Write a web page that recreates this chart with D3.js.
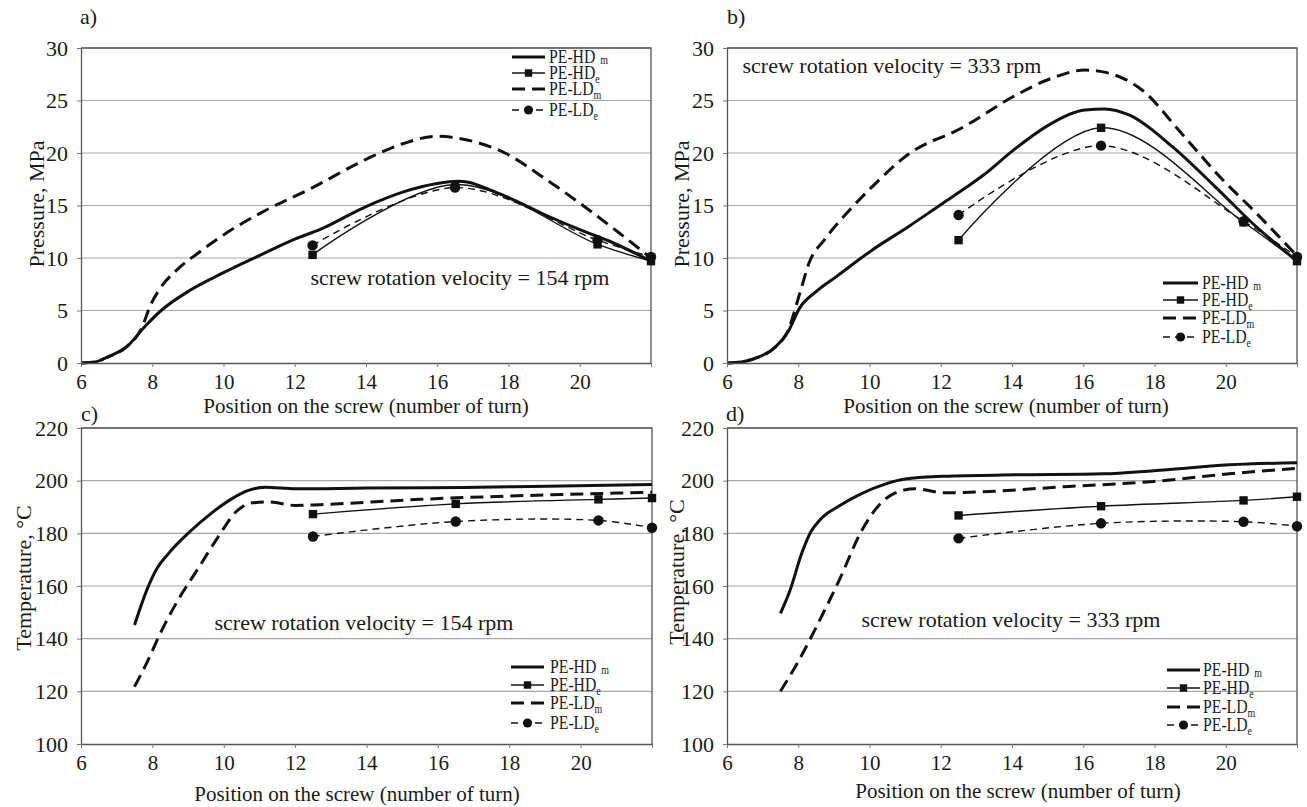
<!DOCTYPE html>
<html>
<head>
<meta charset="utf-8">
<script src="https://cdnjs.cloudflare.com/ajax/libs/d3/7.8.5/d3.min.js"></script>
<style>
    body { margin: 0; background: #fff; }
    text { font-family: "Liberation Serif", "Times New Roman", serif; fill: #1a1a1a; }
</style>
</head>
<body>
<script>
// ---- data ----
const xTicks = [6, 8, 10, 12, 14, 16, 18, 20, 22]
const pressureTicks = [0, 5, 10, 15, 20, 25, 30]
const tempTicks = [100, 120, 140, 160, 180, 200, 220]

const legendNames = ['PE-HD', 'PE-HD', 'PE-LD', 'PE-LD']
const legendSubs = ['m', 'e', 'm', 'e']

// a) pressure, 154 rpm
const pressure154HDm = [[6, 0], [6.4, 0.1], [6.7, 0.5], [7.3, 1.6], [7.8, 3.5], [8.25, 5.0], [9.05, 6.9], [10, 8.6], [11.05, 10.3], [12, 11.8], [12.7, 12.7], [14, 14.9], [15.05, 16.3], [16, 17.1], [16.6, 17.3], [17.9, 15.9], [19.1, 14.0], [20, 12.7], [20.9, 11.5], [22, 9.7]]
const pressure154LDm = [[6, 0], [6.4, 0.1], [6.7, 0.5], [7.3, 1.6], [7.7, 3.3], [7.95, 5.5], [8.2, 7.0], [8.7, 8.9], [9.3, 10.5], [10, 12.2], [11.05, 14.3], [12.5, 16.7], [14, 19.4], [15.05, 20.9], [16, 21.6], [16.6, 21.4], [17.9, 20.0], [19.05, 17.5], [20.25, 14.6], [21.1, 12.4], [22, 10.0]]
const pressure154HDe = [[12.5, 10.3], [16.5, 17.0], [20.5, 11.3], [22, 9.7]]
const pressure154LDe = [[12.5, 11.2], [16.5, 16.7], [20.5, 11.7], [22, 10.1]]

// b) pressure, 333 rpm
const pressure333HDm = [[6, 0], [6.4, 0.1], [6.75, 0.4], [7.35, 1.5], [7.7, 2.9], [8.05, 5.3], [8.5, 6.8], [9.1, 8.3], [10.05, 10.7], [11.1, 13.0], [12.05, 15.2], [12.75, 16.8], [13.2, 17.9], [14.05, 20.3], [15.1, 22.8], [16.05, 24.1], [16.6, 24.2], [17.3, 23.6], [18.5, 20.6], [19.7, 16.8], [20.85, 13.0], [22, 9.7]]
const pressure333LDm = [[6, 0], [6.4, 0.1], [6.75, 0.4], [7.35, 1.5], [7.7, 3.0], [8.05, 6.7], [8.3, 9.5], [8.75, 11.8], [9.45, 14.6], [10.05, 16.7], [11.1, 19.9], [12.6, 22.4], [14.05, 25.4], [15.1, 27.1], [16.05, 27.9], [16.6, 27.7], [17.65, 26.0], [18.75, 21.9], [19.9, 17.5], [20.85, 14.3], [22, 10.2]]
const pressure333HDe = [[12.5, 11.7], [16.5, 22.4], [20.5, 13.4], [22, 9.7]]
const pressure333LDe = [[12.5, 14.1], [16.5, 20.7], [20.5, 13.5], [22, 10.1]]

// c) temperature, 154 rpm
const temp154HDm = [[7.5, 145.2], [7.86, 159], [8.1, 166], [8.45, 172.3], [9.04, 180.5], [9.63, 187.4], [10.22, 193.1], [10.69, 196.3], [11.16, 197.5], [12, 196.9], [14, 197.2], [16.7, 197.4], [19.06, 197.9], [22, 198.5]]
const temp154LDm = [[7.5, 121.8], [7.86, 131.3], [8.2, 141.4], [8.69, 154], [9.28, 166.6], [9.87, 179.2], [10.34, 188.1], [10.8, 191.6], [11.28, 191.9], [12, 190.6], [12.7, 190.9], [15.5, 192.9], [19.06, 194.6], [22, 195.6]]
const temp154HDe = [[12.5, 187.3], [16.5, 191.2], [20.5, 192.9], [22, 193.4]]
const temp154LDe = [[12.5, 178.8], [16.5, 184.5], [20.5, 184.9], [22, 182.1]]

// d) temperature, 333 rpm
const temp333HDm = [[7.5, 149.6], [7.76, 158], [8.1, 172.5], [8.35, 180.5], [8.6, 185], [9.17, 190.6], [9.76, 195], [10.46, 198.8], [11.05, 200.7], [12.1, 201.7], [14.1, 202.2], [16.57, 202.6], [17.98, 203.8], [20.1, 206], [22, 206.8]]
const temp333LDm = [[7.5, 120], [8, 131.3], [8.58, 146.4], [9.17, 162.8], [9.76, 180.5], [10.35, 191.9], [10.93, 196.3], [11.29, 196.9], [12.1, 195.4], [12.8, 195.6], [15.6, 197.8], [17.98, 199.7], [20.1, 202.6], [22, 204.7]]
const temp333HDe = [[12.5, 186.8], [16.5, 190.3], [20.5, 192.5], [22, 193.9]]
const temp333LDe = [[12.5, 178.1], [16.5, 183.8], [20.5, 184.4], [22, 182.7]]

// ---- layout ----
const panels = [
    {
        label: 'a)', labelAt: [80, 24],
        left: 81, top: 48, width: 570, height: 315,
        yDomain: [0, 30], yTicks: pressureTicks, yTitle: 'Pressure, MPa', yTitleAt: [36, 204],
        xTitleAt: [366, 413],
        note: 'screw rotation velocity = 154 rpm', noteAt: [460, 285],
        legend: { x0: 512, x1: 545, tx: 549, ys: [57, 73, 89, 110] },
        series: [pressure154HDm, pressure154HDe, pressure154LDm, pressure154LDe]
    },
    {
        label: 'b)', labelAt: [727, 24],
        left: 727, top: 48, width: 570, height: 315,
        yDomain: [0, 30], yTicks: pressureTicks, yTitle: 'Pressure, MPa', yTitleAt: [681, 204],
        xTitleAt: [1006, 413],
        note: 'screw rotation velocity = 333 rpm', noteAt: [892, 73],
        legend: { x0: 1163, x1: 1198, tx: 1202, ys: [283, 300, 318, 337] },
        series: [pressure333HDm, pressure333HDe, pressure333LDm, pressure333LDe]
    },
    {
        label: 'c)', labelAt: [81, 421],
        left: 81, top: 428, width: 571, height: 316,
        yDomain: [100, 220], yTicks: tempTicks, yTitle: 'Temperature, \u00B0C', yTitleAt: [23, 578],
        xTitleAt: [357, 801],
        note: 'screw rotation velocity = 154 rpm', noteAt: [364, 630],
        legend: { x0: 511, x1: 544, tx: 550, ys: [667, 685, 703, 723] },
        series: [temp154HDm, temp154HDe, temp154LDm, temp154LDe]
    },
    {
        label: 'd)', labelAt: [726, 421],
        left: 727, top: 428, width: 570, height: 316,
        yDomain: [100, 220], yTicks: tempTicks, yTitle: 'Temperature, \u00B0C', yTitleAt: [676, 572],
        xTitleAt: [1018, 798],
        note: 'screw rotation velocity = 333 rpm', noteAt: [1011, 627],
        legend: { x0: 1167, x1: 1200, tx: 1203, ys: [670, 688, 707, 725] },
        series: [temp333HDm, temp333HDe, temp333LDm, temp333LDe]
    }
]

// HD m, HD e, LD m, LD e
const styles = [
    { width: 3, dash: null, marker: null, curve: d3.curveMonotoneX },
    { width: 1.4, dash: null, marker: 'square', curve: d3.curveCatmullRom },
    { width: 3, dash: '13,7', marker: null, curve: d3.curveMonotoneX },
    { width: 1.4, dash: '7,5', marker: 'circle', curve: d3.curveCatmullRom }
]

const svg = d3.select('body')
    .append('svg')
    .attr('width', 1307)
    .attr('height', 807)

const drawMarker = (sel, kind, cx, cy, size) => {
    if (kind === 'square') {
        sel.append('rect')
            .attr('x', cx - size / 2).attr('y', cy - size / 2)
            .attr('width', size).attr('height', size)
            .attr('fill', '#111')
    } else if (kind === 'circle') {
        sel.append('circle')
            .attr('cx', cx).attr('cy', cy)
            .attr('r', size * 0.62)
            .attr('fill', '#111')
    }
}

panels.forEach(p => {
    const x = d3.scaleLinear().domain([6, 22]).range([p.left, p.left + p.width])
    const y = d3.scaleLinear().domain(p.yDomain).range([p.top + p.height, p.top])
    const g = svg.append('g')

    // gridlines
    g.append('g').selectAll('line')
        .data(p.yTicks.slice(1))
        .enter().append('line')
        .attr('x1', p.left).attr('x2', p.left + p.width)
        .attr('y1', d => y(d)).attr('y2', d => y(d))
        .attr('stroke', '#a8a8a8')
        .attr('stroke-width', 1.2)

    // top and right frame
    g.append('path')
        .attr('d', `M${p.left},${p.top}H${p.left + p.width}V${p.top + p.height}`)
        .attr('fill', 'none')
        .attr('stroke', '#555')
        .attr('stroke-width', 1.3)

    // series
    p.series.forEach((data, i) => {
        const st = styles[i]
        const line = d3.line()
            .x(d => x(d[0]))
            .y(d => y(d[1]))
            .curve(st.curve)
        g.append('path')
            .attr('d', line(data))
            .attr('fill', 'none')
            .attr('stroke', '#111')
            .attr('stroke-width', st.width)
            .attr('stroke-dasharray', st.dash)
            .attr('stroke-linejoin', 'round')
        if (st.marker) {
            const mg = g.append('g')
            data.forEach(d => drawMarker(mg, st.marker, x(d[0]), y(d[1]), 8.4))
        }
    })

    // axes
    const xAxis = d3.axisBottom(x)
        .tickValues(xTicks)
        .tickSize(4)
        .tickSizeOuter(0)
        .tickPadding(7)
        .tickFormat(d => d === 22 ? '' : d)
    const yAxis = d3.axisLeft(y)
        .tickValues(p.yTicks)
        .tickSize(4)
        .tickSizeOuter(0)
        .tickPadding(9)

    const xAxisGroup = g.append('g')
        .attr('transform', `translate(0, ${p.top + p.height})`)
        .call(xAxis)
    const yAxisGroup = g.append('g')
        .attr('transform', `translate(${p.left}, 0)`)
        .call(yAxis)

    ;[xAxisGroup, yAxisGroup].forEach(ax => {
        ax.attr('font-family', null).attr('font-size', null)
        ax.selectAll('.domain').attr('stroke', '#555').attr('stroke-width', 1.3)
        ax.selectAll('.tick line').attr('stroke', '#777')
        ax.selectAll('text').style('font-size', '22px').attr('fill', '#1a1a1a')
    })
    xAxisGroup.selectAll('text').style('font-size', '21px')

    // titles and labels
    g.append('text')
        .attr('x', p.labelAt[0]).attr('y', p.labelAt[1])
        .style('font-size', '22px')
        .text(p.label)

    g.append('text')
        .attr('transform', `translate(${p.yTitleAt[0]}, ${p.yTitleAt[1]}) rotate(-90)`)
        .attr('text-anchor', 'middle')
        .attr('dy', '0.35em')
        .style('font-size', '22px')
        .text(p.yTitle)

    g.append('text')
        .attr('x', p.xTitleAt[0]).attr('y', p.xTitleAt[1])
        .attr('text-anchor', 'middle')
        .style('font-size', '21px')
        .text('Position on the screw (number of turn)')

    g.append('text')
        .attr('x', p.noteAt[0]).attr('y', p.noteAt[1])
        .attr('text-anchor', 'middle')
        .style('font-size', '22px')
        .text(p.note)

    // legend
    const lg = g.append('g')
    legendNames.forEach((name, i) => {
        const st = styles[i]
        const ly = p.legend.ys[i]
        lg.append('line')
            .attr('x1', p.legend.x0).attr('x2', p.legend.x1)
            .attr('y1', ly).attr('y2', ly)
            .attr('stroke', '#111')
            .attr('stroke-width', st.width)
            .attr('stroke-dasharray', st.dash)
        drawMarker(lg, st.marker, (p.legend.x0 + p.legend.x1) / 2, ly, 7.4)

        // the original legend text is narrow, so squeeze it a bit
        const t = lg.append('g')
            .attr('transform', `translate(${p.legend.tx}, ${ly + 6}) scale(0.83, 1)`)
            .append('text')
            .style('font-size', '19px')
        t.append('tspan').text(name)
        t.append('tspan')
            .attr('dx', i === 0 ? 6 : 0)
            .attr('dy', i === 0 ? 1 : 4)
            .style('font-size', '12px')
            .text(legendSubs[i])
    })
})
</script>
</body>
</html>
